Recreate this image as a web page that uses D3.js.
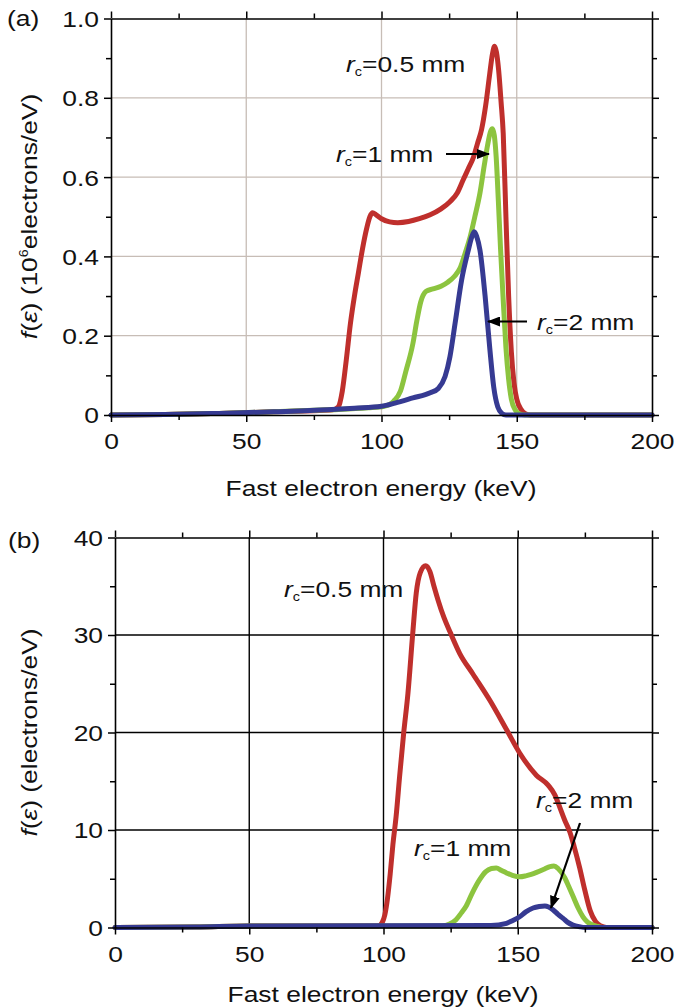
<!DOCTYPE html>
<html>
<head>
<meta charset="utf-8">
<script src="https://cdn.jsdelivr.net/npm/d3@7"></script>
<style>
  html, body { margin: 0; padding: 0; background: #fff; }
  svg { display: block; }
  text { font-family: "Liberation Sans", Arial, Helvetica, sans-serif; fill: #111; }
</style>
</head>
<body>
<svg id="chart" width="689" height="1007"></svg>
<script>
// ---- Energy spectra f(ε) of fast electrons, [energy keV, value] pairs ----
// Panel (a): units of 10^6 electrons/eV
const a_r05 = [[0,0],[20,0.001],[40,0.004],[60,0.008],[75,0.011],[82,0.013],[84,0.02],[85.5,0.06],[87,0.14],[88.5,0.23],[90,0.3],[91.5,0.36],[93,0.42],[94.5,0.47],[95.7,0.5],[96.7,0.51],[98,0.505],[100,0.495],[103,0.487],[106,0.485],[110,0.488],[114,0.495],[118,0.505],[122,0.52],[125.3,0.538],[128,0.56],[130,0.59],[132,0.62],[134,0.65],[135.5,0.685],[137,0.72],[138.5,0.78],[140,0.86],[141,0.91],[141.8,0.93],[142.5,0.915],[143.3,0.87],[144.2,0.79],[145,0.71],[146,0.5],[147,0.3],[148,0.16],[149,0.08],[150,0.04],[151.5,0.015],[153,0.004],[155,0],[200,0]];
const a_r1 = [[0,0],[20,0.001],[40,0.004],[60,0.008],[80,0.013],[95,0.018],[101,0.022],[103,0.027],[104.5,0.035],[107,0.06],[109,0.11],[111.6,0.18],[113,0.235],[114.5,0.285],[116.5,0.312],[119,0.318],[122,0.325],[124.5,0.335],[127,0.35],[129,0.37],[131,0.41],[132.8,0.45],[134.5,0.5],[136.4,0.56],[138,0.63],[139.2,0.68],[140.3,0.715],[141,0.722],[141.7,0.705],[142.4,0.65],[143.2,0.54],[144,0.42],[145,0.29],[146,0.17],[147,0.09],[148,0.04],[149.5,0.012],[151,0.003],[153,0],[200,0]];
const a_r2 = [[0,0],[20,0.001],[40,0.004],[60,0.008],[80,0.013],[90,0.017],[100,0.022],[105,0.03],[111.6,0.043],[118,0.056],[121,0.067],[123.5,0.097],[125.3,0.147],[127.2,0.231],[129.6,0.34],[132.1,0.416],[133.4,0.45],[134.3,0.462],[135.2,0.45],[136.4,0.416],[138.3,0.3],[140,0.17],[141.5,0.07],[143,0.02],[144.5,0.004],[146,0],[200,0]];

// Panel (b): units of electrons/eV
const b_r05 = [[0,0],[30,0.05],[50,0.15],[98,0.15],[99.5,0.5],[100.5,1.3],[101.5,3],[102.5,5.5],[103.5,8.5],[104.7,11.4],[106,15.5],[107.5,19.9],[109.1,24],[110.9,30.2],[112.2,34.3],[113.7,36.4],[115.7,37.1],[117.3,36.5],[118.8,35],[120.3,33.6],[122.5,31.8],[124.8,30.3],[128.4,28.1],[133.3,26],[139.6,23.3],[145.8,20.3],[150.7,17.9],[157,15.6],[161.3,14.6],[163.8,13.6],[165.7,12.3],[167.5,11],[169.4,9.8],[171,8.3],[173,6.2],[175,3.8],[177,1.7],[179,0.6],[181,0.15],[183,0],[200,0]];
const b_r1 = [[0,0],[30,0.05],[50,0.15],[122,0.15],[124.6,0.35],[127,0.8],[129,1.5],[130.8,2.2],[133,3.5],[135.8,4.9],[138,5.7],[140.2,6.05],[142,6.1],[144,5.85],[145.8,5.6],[148,5.35],[150.7,5.2],[153,5.3],[155,5.45],[157,5.65],[160,6.0],[162,6.25],[163.5,6.3],[165,6.05],[167.5,5.1],[169,4.2],[170.6,3.2],[172.5,2.0],[174.3,1.1],[176,0.55],[178,0.25],[180,0.1],[182,0],[200,0]];
const b_r2 = [[0,0],[30,0.05],[50,0.15],[140,0.2],[145.8,0.43],[148,0.7],[150.7,1.1],[153,1.6],[155.7,2.0],[158,2.15],[160.1,2.2],[161.5,2.1],[163.2,1.8],[165,1.35],[166.9,0.94],[168.5,0.55],[170.6,0.25],[173,0.08],[175,0],[200,0]];

// Axis ticks
const xMajor = [0, 50, 100, 150, 200];
const xMinor = [25, 75, 125, 175];
const aYMajor = [0, 0.2, 0.4, 0.6, 0.8, 1.0];
const aYMinor = [0.1, 0.3, 0.5, 0.7, 0.9];
const bYMajor = [0, 10, 20, 30, 40];
const bYMinor = [5, 15, 25, 35];

const seriesColors = ["#bf2f2c", "#8cc43f", "#363a92"]; // r_c = 0.5, 1, 2 mm

const SX = 1.2;       // horizontal widening of the lettering
const FS = 22;        // font size
const svg = d3.select("#chart");

svg.append("defs").append("marker")
  .attr("id", "arrow").attr("viewBox", "0 0 13 10")
  .attr("refX", 12).attr("refY", 5)
  .attr("markerWidth", 13).attr("markerHeight", 10)
  .attr("markerUnits", "userSpaceOnUse").attr("orient", "auto")
  .append("path").attr("d", "M0,0 L13,5 L0,10 Z").attr("fill", "#000");

function text(parent, x, y, anchor, rot) {
  return parent.append("text")
    .attr("transform", `translate(${x},${y})${rot ? " rotate(" + rot + ")" : ""} scale(${SX},1)`)
    .attr("text-anchor", anchor || "start")
    .style("font-size", FS + "px");
}

function rcLabel(parent, x, y, val) {
  const t = text(parent, x, y, "start");
  t.append("tspan").style("font-style", "italic").text("r");
  t.append("tspan").attr("dy", 4).style("font-size", "12px").text("c");
  t.append("tspan").attr("dy", -4).text("=" + val + " mm");
}

function panel(opt) {
  const { L, R, T, B, yMax, yMajor, yMinor, yFmt, series, gridColor, gridWidth } = opt;
  const x = d3.scaleLinear().domain([0, 200]).range([L, R]);
  const y = d3.scaleLinear().domain([0, yMax]).range([B, T]);
  const g = svg.append("g");

  // grid
  g.append("g").selectAll("line").data(xMajor.slice(1, -1)).join("line")
    .attr("x1", d => x(d)).attr("x2", d => x(d)).attr("y1", T).attr("y2", B)
    .attr("stroke", gridColor).attr("stroke-width", gridWidth);
  g.append("g").selectAll("line").data(yMajor.slice(1, -1)).join("line")
    .attr("y1", d => y(d)).attr("y2", d => y(d)).attr("x1", L).attr("x2", R)
    .attr("stroke", gridColor).attr("stroke-width", gridWidth);

  // curves
  const line = d3.line().x(d => x(d[0])).y(d => y(d[1])).curve(d3.curveMonotoneX);
  series.forEach((s, i) => {
    g.append("path").datum(s).attr("d", line)
      .attr("fill", "none").attr("stroke", seriesColors[i])
      .attr("stroke-width", 5).attr("stroke-linejoin", "round").attr("stroke-linecap", "round");
  });

  // axes: major & minor ticks on all four sides, pointing outward
  const axes = [
    [d3.axisBottom(x), `translate(0,${B})`, xMajor, xMinor, true],
    [d3.axisTop(x), `translate(0,${T})`, xMajor, xMinor, false],
    [d3.axisLeft(y), `translate(${L},0)`, yMajor, yMinor, true],
    [d3.axisRight(y), `translate(${R},0)`, yMajor, yMinor, false]
  ];
  axes.forEach(([ax, tr, maj, min, labels], k) => {
    const gm = g.append("g").attr("transform", tr)
      .call(ax.tickValues(min).tickSize(5).tickSizeOuter(0).tickFormat(""));
    gm.select(".domain").remove();
    const gM = g.append("g").attr("transform", tr)
      .call(ax.tickValues(maj).tickSize(7).tickSizeOuter(0)
        .tickFormat(labels ? (k === 0 ? d3.format("d") : yFmt) : ""));
    gM.selectAll("line, path").attr("stroke", "#000").attr("stroke-width", 1.5);
    gm.selectAll("line").attr("stroke", "#000").attr("stroke-width", 1.5);
    gM.select(".domain").attr("stroke-width", 1.6);
    if (labels) {
      const t = gM.selectAll("text").style("font-size", FS + "px")
        .style("font-family", '"Liberation Sans", Arial, sans-serif').attr("fill", "#111");
      if (k === 0) t.attr("y", null).attr("dy", null).attr("transform", `translate(0,34) scale(${SX},1)`);
      else t.attr("x", null).attr("dy", "0.36em").attr("transform", `translate(-12,0) scale(${SX},1)`);
    }
  });
  return { x, y, g };
}

// ---------- panel (a) ----------
const pa = panel({ L: 111, R: 652, T: 18.5, B: 415, yMax: 1.0, yMajor: aYMajor, yMinor: aYMinor,
  yFmt: d => d === 0 ? "0" : d3.format(".1f")(d), series: [a_r05, a_r1, a_r2],
  gridColor: "#c7bdb6", gridWidth: 1.3 });
text(svg, 7, 26, "start").text("(a)");
text(svg, 381, 496, "middle").text("Fast electron energy (keV)");
{
  const t = text(svg, 37, 216.5, "middle", -90);
  t.append("tspan").style("font-style", "italic").text("f");
  t.append("tspan").text("(");
  t.append("tspan").style("font-style", "italic").text("ε");
  t.append("tspan").text(") (10");
  t.append("tspan").attr("dy", -9).style("font-size", "12px").text("6");
  t.append("tspan").attr("dy", 9).text("electrons/eV)");
}
rcLabel(svg, 346, 72, "0.5");
rcLabel(svg, 336, 162, "1");
rcLabel(svg, 537, 330, "2");
svg.append("line").attr("x1", 446).attr("y1", 154).attr("x2", 489).attr("y2", 154)
  .attr("stroke", "#000").attr("stroke-width", 2.2).attr("marker-end", "url(#arrow)");
svg.append("line").attr("x1", 527).attr("y1", 321.5).attr("x2", 488).attr("y2", 321.5)
  .attr("stroke", "#000").attr("stroke-width", 2.2).attr("marker-end", "url(#arrow)");

// ---------- panel (b) ----------
const pb = panel({ L: 115, R: 652, T: 537.5, B: 927.5, yMax: 40, yMajor: bYMajor, yMinor: bYMinor,
  yFmt: d3.format("d"), series: [b_r05, b_r1, b_r2],
  gridColor: "#000", gridWidth: 1.4 });
text(svg, 8, 548, "start").text("(b)");
text(svg, 383, 1002, "middle").text("Fast electron energy (keV)");
{
  const t = text(svg, 37, 732.5, "middle", -90);
  t.append("tspan").style("font-style", "italic").text("f");
  t.append("tspan").text("(");
  t.append("tspan").style("font-style", "italic").text("ε");
  t.append("tspan").text(") (electrons/eV)");
}
rcLabel(svg, 284, 597, "0.5");
rcLabel(svg, 414, 856, "1");
rcLabel(svg, 536, 808, "2");
svg.append("line").attr("x1", 580).attr("y1", 823).attr("x2", 551).attr("y2", 908)
  .attr("stroke", "#000").attr("stroke-width", 2.2).attr("marker-end", "url(#arrow)");
</script>
</body>
</html>
